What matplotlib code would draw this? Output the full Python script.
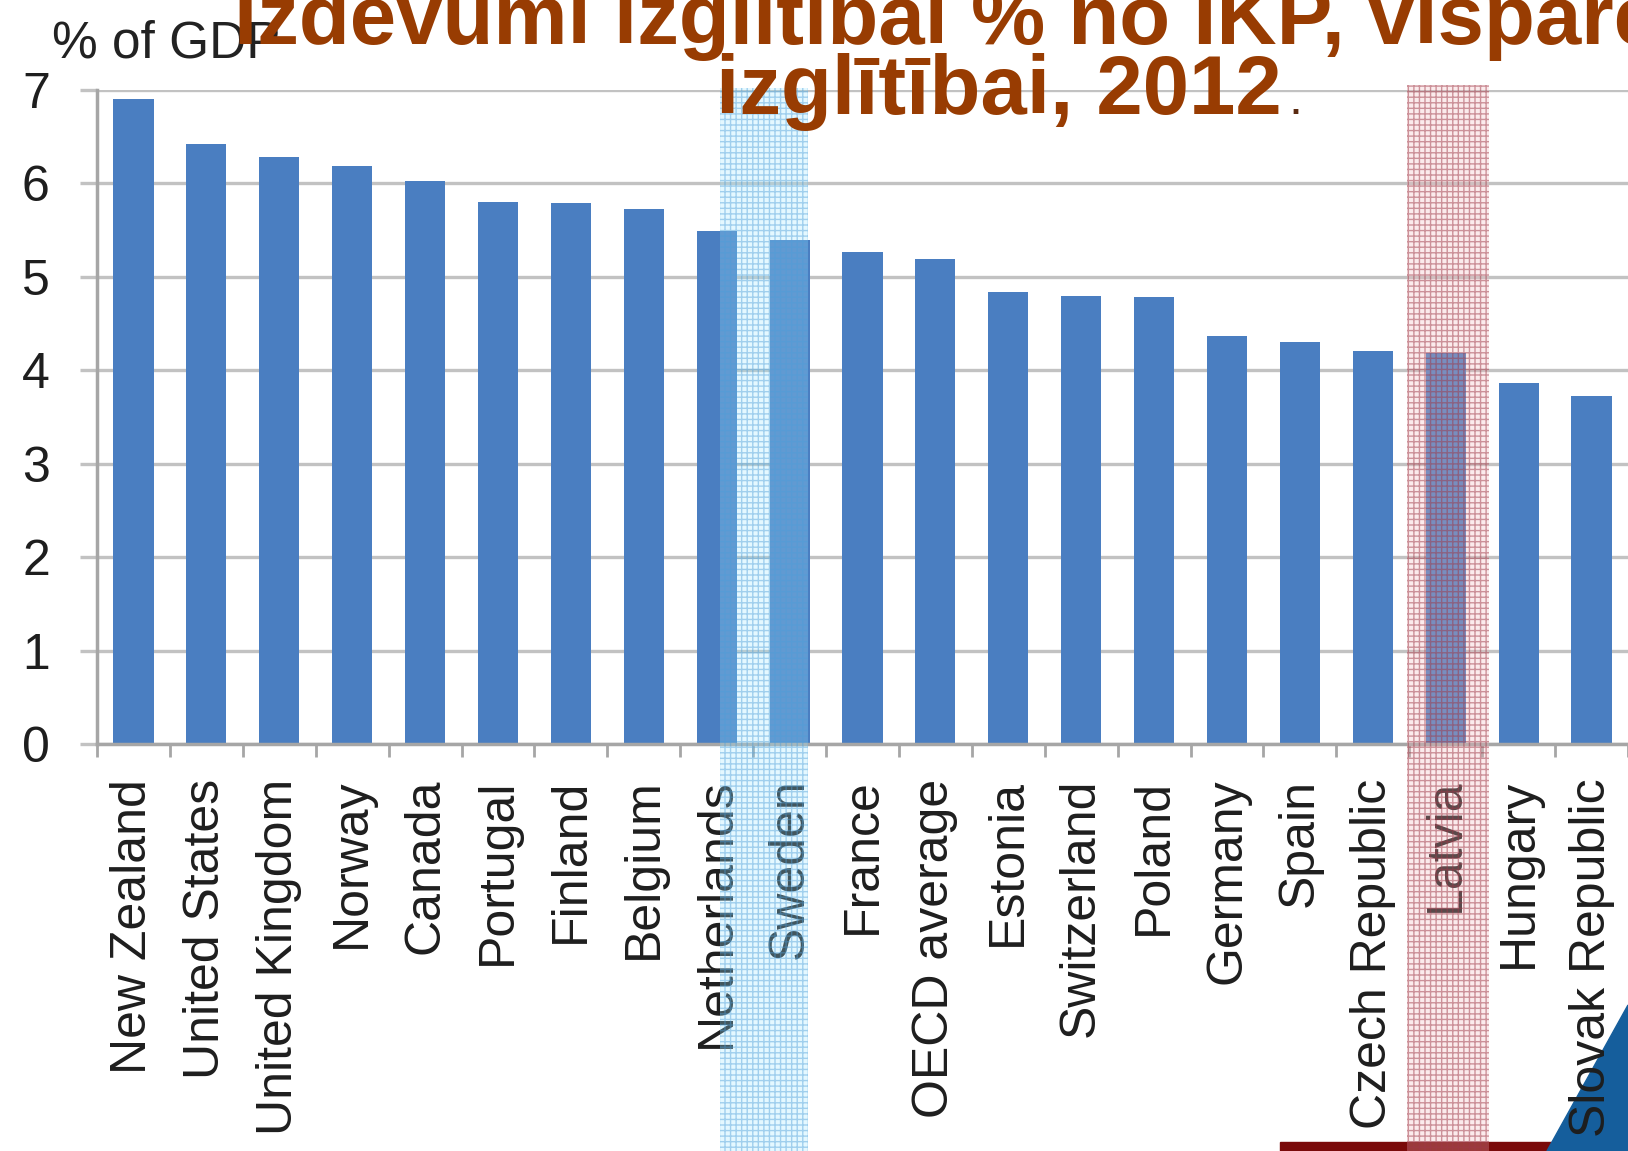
import matplotlib
matplotlib.use("Agg")
import matplotlib.pyplot as plt
from matplotlib.patches import Rectangle, Polygon
from matplotlib.transforms import blended_transform_factory

# data: public spending on education, % of GDP, 2012
countries = ["New Zealand", "United States", "United Kingdom", "Norway", "Canada",
             "Portugal", "Finland", "Belgium", "Netherlands", "Sweden", "France",
             "OECD average", "Estonia", "Switzerland", "Poland", "Germany", "Spain",
             "Czech Republic", "Latvia", "Hungary", "Slovak Republic"]
spend = [6.90, 6.42, 6.28, 6.19, 6.03, 5.80, 5.79, 5.73, 5.49, 5.39, 5.27,
         5.19, 4.84, 4.79, 4.78, 4.37, 4.30, 4.21, 4.18, 3.86, 3.72]

# highlighted spans (in category units)
blue_span = (8.05, 9.25)
red_span = (17.47, 18.60)

plt.rcParams['font.family'] = ['Liberation Sans', 'DejaVu Sans']
plt.rcParams['hatch.linewidth'] = 1.0

W, H = 1628, 1151
fig = plt.figure(figsize=(W / 100, H / 100), dpi=100)
ax = fig.add_axes([97 / W, 1 - 744 / H, 1 - 97 / W, (744 - 90) / H])

x = list(range(len(countries)))
ax.bar(x, spend, width=0.55, color='#4A7EC1', zorder=2)

ax.set_xlim(-0.5, len(countries) - 0.5)
ax.set_ylim(0, 7)
ax.set_yticks(range(8))
ax.yaxis.grid(True, color='#C2C2C2', linewidth=2.4)
ax.set_axisbelow(True)

ax.set_xticks(x)
ax.set_xticklabels(countries, rotation=90, fontsize=36, color='#1E1E1E')
ax.set_xticks([i + 0.5 for i in range(-1, len(countries))], minor=True)
ax.tick_params(axis='x', which='major', length=0, pad=25)
ax.tick_params(axis='x', which='minor', length=9, width=2, color='#A6A6A6')
ax.tick_params(axis='y', length=12, width=2.4, color='#C2C2C2', labelsize=36,
               pad=22, labelcolor='#1E1E1E')
for s in ['top', 'right']:
    ax.spines[s].set_visible(False)
for s in ['left', 'bottom']:
    ax.spines[s].set_color('#A6A6A6')
    ax.spines[s].set_linewidth(2.5)

# highlight boxes over Netherlands/Sweden and Latvia
trans = blended_transform_factory(ax.transData, fig.transFigure)
fig.add_artist(Rectangle((blue_span[0], 0), blue_span[1] - blue_span[0], 1 - 88 / H,
                         transform=trans, facecolor=(0.62, 0.90, 1.0, 0.28),
                         edgecolor=(0.30, 0.62, 0.85, 0.45), hatch='+++',
                         linewidth=0, zorder=5))
fig.add_artist(Rectangle((red_span[0], 0), red_span[1] - red_span[0], 1 - 85 / H,
                         transform=trans, facecolor=(0.95, 0.72, 0.74, 0.28),
                         edgecolor=(0.62, 0.22, 0.28, 0.50), hatch='+++',
                         linewidth=0, zorder=5))

# slide decorations at the bottom
fig.add_artist(Rectangle((1280 / W, 0), (1555 - 1280) / W, 9 / H,
                         transform=fig.transFigure, color='#7A0A0A', zorder=-1))
fig.add_artist(Polygon([(1547 / W, 0), (1, 1 - 1005 / H), (1, 0)],
                       transform=fig.transFigure, color='#155E9C', zorder=-1))

# texts
fig.text(52 / W, 1 - 57 / H, '% of GDP', fontsize=37, color='#222222', va='baseline')
fig.text(234 / W, 1 - 44 / H, 'Izdevumi izglītībai % no IKP, vispārējai',
         fontsize=60, fontweight='bold', color='#983C02', va='baseline', zorder=10)
fig.text(716 / W, 1 - 114 / H, 'izglītībai, 2012',
         fontsize=60, fontweight='bold', color='#983C02', va='baseline', zorder=10)
fig.text(1288 / W, 1 - 114 / H, '.', fontsize=36, color='#5A2A10', va='baseline', zorder=10)

plt.savefig('out.png', dpi=100)
